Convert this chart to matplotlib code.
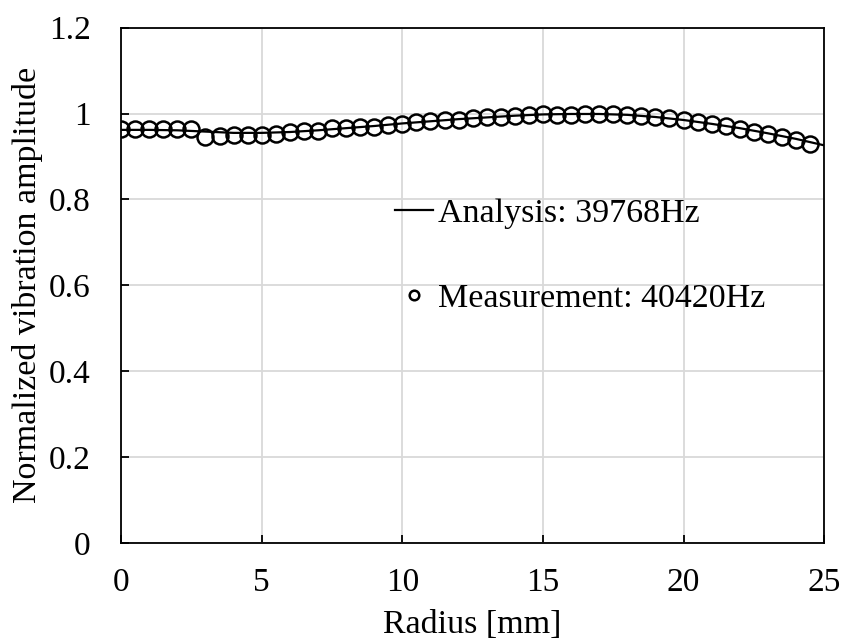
import numpy as np
import matplotlib
matplotlib.use("Agg")
import matplotlib.pyplot as plt
from matplotlib.ticker import FuncFormatter

plt.rcParams['font.family'] = ['Liberation Serif', 'DejaVu Serif']

# measured amplitude along the radius (0.5 mm pitch)
meas_r = np.arange(0, 25, 0.5)
meas_amp = [0.963, 0.963, 0.963, 0.964, 0.965, 0.965, 0.946, 0.947, 0.950, 0.951,
            0.951, 0.953, 0.958, 0.960, 0.960, 0.966, 0.966, 0.968, 0.968, 0.973,
            0.975, 0.980, 0.982, 0.985, 0.986, 0.990, 0.992, 0.993, 0.995, 0.997,
            0.998, 0.997, 0.997, 0.998, 0.998, 1.000, 0.997, 0.994, 0.991, 0.989,
            0.985, 0.981, 0.975, 0.970, 0.965, 0.958, 0.952, 0.946, 0.938, 0.930]

# FEM result
ana_r = np.arange(0, 26, 1)
ana_amp = [0.962, 0.962, 0.961, 0.958, 0.955, 0.955, 0.957, 0.961, 0.966, 0.971,
           0.977, 0.982, 0.987, 0.991, 0.995, 0.998, 0.999, 0.999, 0.997, 0.992,
           0.985, 0.976, 0.966, 0.954, 0.941, 0.926]

x_ticks = [0, 5, 10, 15, 20, 25]
y_ticks = [0, 0.2, 0.4, 0.6, 0.8, 1.0, 1.2]

fig = plt.figure(figsize=(8.47, 6.44), dpi=100)
ax = fig.add_axes([0.143, 0.157, 0.830, 0.800])

ax.plot(ana_r, ana_amp, color='black', lw=1.6, label='Analysis: 39768Hz', zorder=3)
ax.plot(meas_r, meas_amp, 'o', mfc='none', mec='black', mew=1.8, ms=11.5,
        label='Measurement: 40420Hz', zorder=4)

ax.set_xlim(0, 25)
ax.set_ylim(0, 1.2)
ax.set_xticks(x_ticks)
ax.set_yticks(y_ticks)
ax.yaxis.set_major_formatter(FuncFormatter(lambda v, p: ('%g' % round(v, 2))))
ax.grid(True, color='#d9d9d9', lw=1.3)
ax.set_axisbelow(True)
for s in ax.spines.values():
	s.set_color('black')
	s.set_linewidth(1.3)
ax.tick_params(direction='in', length=6, width=1.3, labelsize=24)
ax.tick_params(axis='x', pad=18)
ax.tick_params(axis='y', pad=22)

ax.set_xlabel('Radius [mm]', fontsize=24.5, labelpad=8)
ax.set_ylabel('Normalized vibration amplitude', fontsize=24.5, labelpad=4)

leg = ax.legend(loc='upper left', bbox_to_anchor=(0.39, 0.67), frameon=False,
                fontsize=24.5, handlelength=1.1, handletextpad=0.15,
                labelspacing=1.6, markerscale=0.6, borderpad=0, borderaxespad=0)

fig.savefig('out.png', dpi=100)
